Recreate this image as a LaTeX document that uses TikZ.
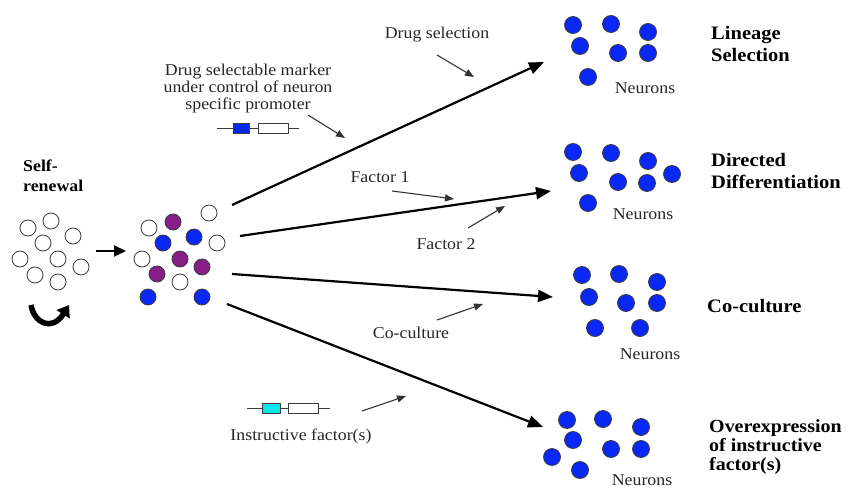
\documentclass[tikz,border=0pt]{standalone}
\usepackage{fontspec}
\setmainfont{Liberation Serif}[FakeStretch=1.08]
\usetikzlibrary{arrows.meta}
\definecolor{cellblue}{RGB}{10,40,245}
\definecolor{cellpurple}{RGB}{135,30,135}
\definecolor{cellcyan}{RGB}{0,230,235}
\definecolor{rim}{RGB}{60,60,60}
\tikzset{
  cell/.style={circle,draw=rim,line width=0.8pt,minimum size=16pt,inner sep=0pt},
  wcell/.style={cell,fill=white},
  bcell/.style={cell,fill=cellblue},
  pcell/.style={cell,fill=cellpurple},
  mainarrow/.style={line width=2.2pt,-{Triangle[length=15pt,width=12pt]}},
  smallarrow/.style={line width=1.1pt,draw=black!80,-{Triangle[length=9pt,width=7pt]}},
  lbl/.style={font=\fontsize{16.5}{17}\selectfont,inner sep=0pt,text=black!85},
  biglbl/.style={font=\fontsize{19}{22}\selectfont\bfseries,inner sep=0pt,align=left,anchor=west},
  genebox/.style={draw=rim,line width=0.8pt,inner sep=0pt,minimum height=10pt},
}
\begin{document}
\begin{tikzpicture}[x=1pt,y=-1pt]
\useasboundingbox (0,0) rectangle (848,489);

% self-renewal
\node[font=\fontsize{16.5}{20}\selectfont\bfseries,align=left,anchor=west,inner sep=0pt] (selfr) at (23,176) {Self-\\renewal};
\foreach \n/\x/\y in {a/28/228,b/51/221,c/73/236,d/43/243,e/20/259,f/58/259,g/81/267,h/35/275,i/58/282}
  \node[wcell] (L\n) at (\x,\y) {};
\coordinate (sr1) at (31,305);
\coordinate (sr2) at (69,305);
\draw[line width=5.5pt,-{Triangle[length=11pt,width=15pt]}] (sr1) .. controls (34,323) and (52,332) .. (sr2);

% arrow between clusters
\coordinate (a0) at (96,251);
\coordinate (a1) at (126,251);
\draw[line width=2pt,-{Triangle[length=12pt,width=11pt]}] (a0) -- (a1);

% middle cluster
\foreach \n/\s/\x/\y in {a/wcell/149/228,b/pcell/173/222,c/wcell/209/213,d/bcell/163/243,e/bcell/194/237,f/wcell/217/243,g/wcell/142/259,h/pcell/180/259,i/pcell/202/267,j/pcell/157/274,k/wcell/180/282,l/bcell/148/297,m/bcell/202/297}
  \node[\s] (M\n) at (\x,\y) {};

% main arrows
\coordinate (s1) at (232,205); \coordinate (e1) at (544,62);
\coordinate (s2) at (240,236); \coordinate (e2) at (551,191);
\coordinate (s3) at (232,274); \coordinate (e3) at (553,297);
\coordinate (s4) at (227,304); \coordinate (e4) at (543,427);
\draw[mainarrow] (s1) -- (e1);
\draw[mainarrow] (s2) -- (e2);
\draw[mainarrow] (s3) -- (e3);
\draw[mainarrow] (s4) -- (e4);

% labels and small arrows
\node[lbl] (drugsel) at (437,35) {Drug selection};
\coordinate (d1) at (437,55); \coordinate (d2) at (474,77);
\draw[smallarrow] (d1) -- (d2);

\node[lbl,align=center,font=\fontsize{16.5}{17}\selectfont] (marker) at (248,89) {Drug selectable marker\\under control of neuron\\specific promoter};
\coordinate (m1) at (308,115); \coordinate (m2) at (345,138);
\draw[smallarrow] (m1) -- (m2);
\coordinate (g1) at (217,128); \coordinate (g2) at (299,128);
\draw[line width=0.8pt,draw=rim] (g1) -- (g2);
\node[genebox,fill=cellblue,minimum width=16pt] (gb) at (241,128) {};
\node[genebox,fill=white,minimum width=30pt] (gw) at (273,128) {};

\node[lbl] (f1) at (380,177) {Factor 1};
\coordinate (f1a) at (392,191); \coordinate (f1b) at (454,199);
\draw[smallarrow] (f1a) -- (f1b);
\node[lbl] (f2) at (446,244) {Factor 2};
\coordinate (f2a) at (468,228); \coordinate (f2b) at (505,206);
\draw[smallarrow] (f2a) -- (f2b);

\node[lbl] (cc) at (411,333) {Co-culture};
\coordinate (c1) at (437,320); \coordinate (c2) at (483,304);
\draw[smallarrow] (c1) -- (c2);

\coordinate (i1) at (247,408); \coordinate (i2) at (330,408);
\draw[line width=0.8pt,draw=rim] (i1) -- (i2);
\node[genebox,fill=cellcyan,minimum width=18pt] (ib) at (271,408) {};
\node[genebox,fill=white,minimum width=30pt] (iw) at (303,408) {};
\node[lbl] (instr) at (301,436) {Instructive factor(s)};
\coordinate (ia) at (362,411); \coordinate (ib2) at (406,396);
\draw[smallarrow] (ia) -- (ib2);

% right clusters
\foreach \n/\x/\y in {a/573/25,b/611/24,c/648/32,d/580/46,e/618/53,f/648/53,g/588/77}
  \node[bcell,minimum size=17pt] (R1\n) at (\x,\y) {};
\node[lbl] (n1) at (645,88) {Neurons};
\node[biglbl] (t1) at (711,44) {Lineage\\Selection};

\foreach \n/\x/\y in {a/573/152,b/611/153,c/648/161,d/579/173,e/618/182,f/647/183,g/672/174,h/588/203}
  \node[bcell,minimum size=17pt] (R2\n) at (\x,\y) {};
\node[lbl] (n2) at (643,214) {Neurons};
\node[biglbl] (t2) at (711,171) {Directed\\Differentiation};

\foreach \n/\x/\y in {a/582/275,b/619/274,c/657/282,d/589/297,e/626/303,f/657/303,g/595/328,h/640/328}
  \node[bcell,minimum size=17pt] (R3\n) at (\x,\y) {};
\node[lbl] (n3) at (650,354) {Neurons};
\node[biglbl] (t3) at (707,306) {Co-culture};

\foreach \n/\x/\y in {a/567/420,b/603/419,c/641/427,d/573/440,e/611/449,f/641/449,g/552/457,h/580/470}
  \node[bcell,minimum size=17pt] (R4\n) at (\x,\y) {};
\node[lbl] (n4) at (642,480) {Neurons};
\node[biglbl,font=\fontsize{18.5}{19}\selectfont\bfseries] (t4) at (709,447) {Overexpression\\of instructive\\factor(s)};
\end{tikzpicture}
\end{document}
